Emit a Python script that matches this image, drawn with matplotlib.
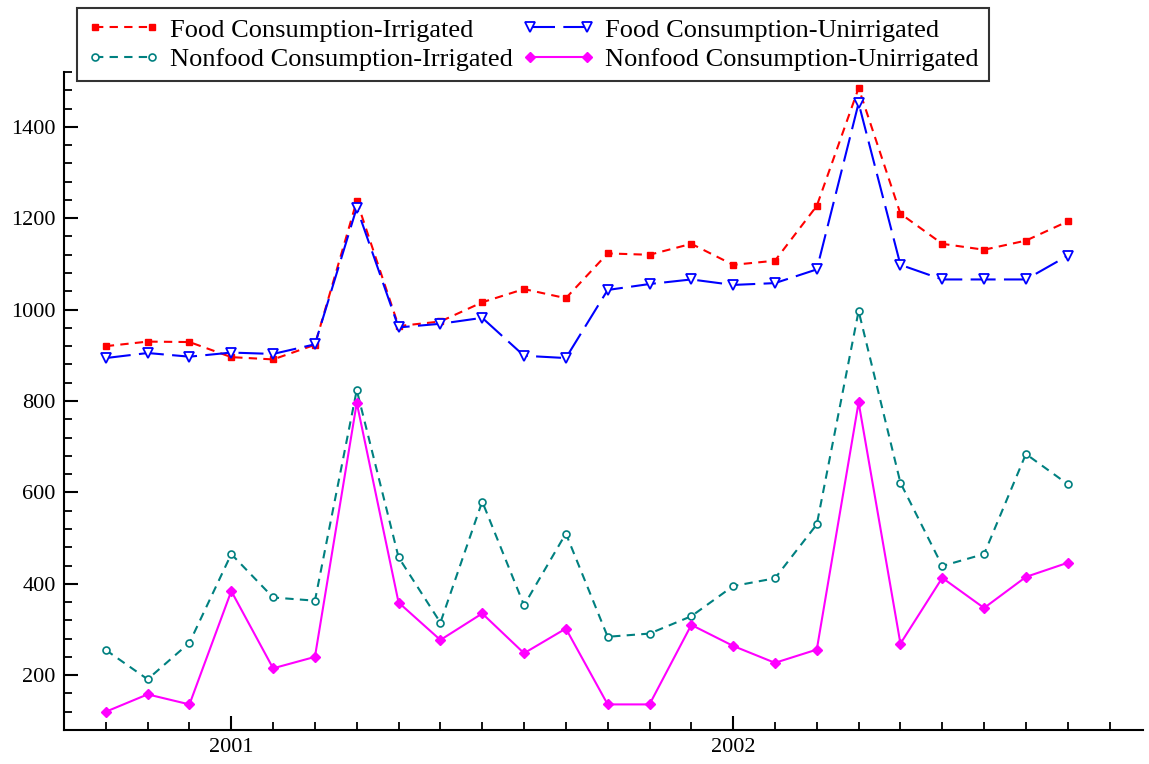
import matplotlib
matplotlib.use('Agg')
import matplotlib.pyplot as plt
from matplotlib.ticker import MultipleLocator, FixedLocator
import numpy as np

plt.rcParams['font.family'] = ['Liberation Serif', 'DejaVu Serif']

# monthly series, Oct 2000 .. Sep 2002
months = np.arange(24)
food_irr = [920, 930, 929, 896, 891, 923, 1238, 964, 974, 1016, 1045, 1025,
            1123, 1120, 1144, 1098, 1107, 1227, 1485, 1210, 1144, 1131, 1151, 1193]
food_unirr = [894, 905, 897, 906, 903, 924, 1223, 961, 969, 982, 899, 894,
              1043, 1056, 1066, 1054, 1058, 1088, 1452, 1098, 1066, 1066, 1066, 1118]
nonfood_irr = [255, 191, 271, 465, 370, 363, 824, 458, 315, 580, 353, 510,
               284, 291, 329, 395, 412, 530, 997, 621, 439, 465, 684, 618]
nonfood_unirr = [120, 158, 136, 384, 215, 240, 796, 359, 277, 335, 248, 302,
                 136, 136, 310, 264, 227, 256, 797, 269, 413, 347, 415, 446]

year_pos = [3, 15]
year_labels = ['2001', '2002']

fig = plt.figure(figsize=(11.49, 7.64), dpi=100)
ax = fig.add_axes([64/1149, 34/764, (1143-64)/1149, (730-72)/764])

l1, = ax.plot(months, food_irr, color='#ff0000', linestyle=(0, (4, 3)), lw=1.5,
              marker='s', markersize=4, label='Food Consumption-Irrigated')
l2, = ax.plot(months, food_unirr, color='#0000ff', linestyle=(0, (12, 4)), lw=1.5,
              marker='v', markersize=7, markerfacecolor='white', markeredgewidth=1.3,
              label='Food Consumption-Unirrigated')
l3, = ax.plot(months, nonfood_irr, color='#008080', linestyle=(0, (4, 3)), lw=1.5,
              marker='o', markersize=5, markerfacecolor='white', markeredgewidth=1.2,
              label='Nonfood Consumption-Irrigated')
l4, = ax.plot(months, nonfood_unirr, color='#ff00ff', linestyle='-', lw=1.5,
              marker='D', markersize=5, label='Nonfood Consumption-Unirrigated')

ax.set_xlim(-1.0, 24.8)
ax.set_ylim(80, 1520)

ax.xaxis.set_major_locator(FixedLocator(year_pos))
ax.set_xticklabels(year_labels)
ax.xaxis.set_minor_locator(MultipleLocator(1))
ax.yaxis.set_major_locator(MultipleLocator(200))
ax.yaxis.set_minor_locator(MultipleLocator(40))

ax.tick_params(axis='both', which='major', direction='in', length=10, width=1.5,
               labelsize=16, pad=6)
ax.tick_params(axis='both', which='minor', direction='in', length=6, width=1.3)

for s in ['top', 'right']:
    ax.spines[s].set_visible(False)
for s in ['left', 'bottom']:
    ax.spines[s].set_linewidth(1.5)

# row-wise order like the original: matplotlib fills legend columns first
handles = [l1, l3, l2, l4]
leg = fig.legend(handles=handles, labels=[h.get_label() for h in handles],
                 loc='upper left', bbox_to_anchor=(77/1149, 1 - 8/764), ncol=2,
                 fontsize=19, frameon=True, fancybox=False, edgecolor='black',
                 handlelength=2.75, columnspacing=0.35, borderpad=0.38,
                 borderaxespad=0, labelspacing=0.23, handletextpad=0.4,
                 numpoints=2)
leg.get_frame().set_linewidth(1.5)

fig.savefig('out.png', dpi=100)
